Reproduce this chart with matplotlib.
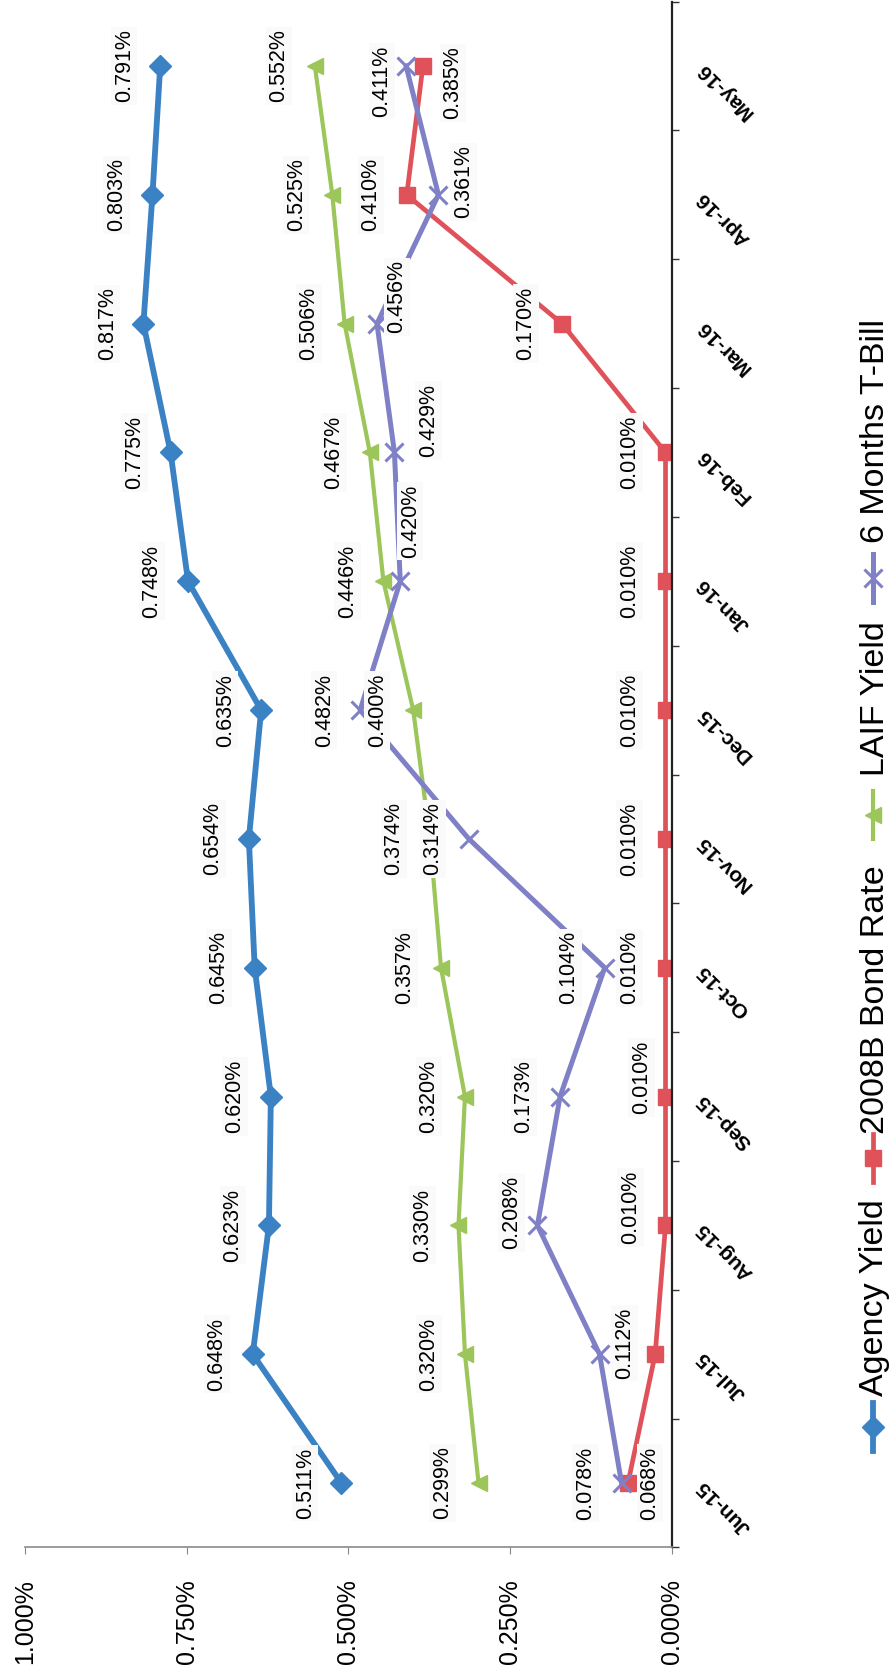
import numpy as np
import matplotlib
matplotlib.use("Agg")
import matplotlib.pyplot as plt
from matplotlib.lines import Line2D

# ---------------- data ----------------
months = ["Jun-15", "Jul-15", "Aug-15", "Sep-15", "Oct-15", "Nov-15",
          "Dec-15", "Jan-16", "Feb-16", "Mar-16", "Apr-16", "May-16"]
agency_yield = [0.511, 0.648, 0.623, 0.620, 0.645, 0.654, 0.635, 0.748, 0.775, 0.817, 0.803, 0.791]
bond_rate = [0.068, 0.026, 0.010, 0.010, 0.010, 0.010, 0.010, 0.010, 0.010, 0.170, 0.410, 0.385]
laif_yield = [0.299, 0.320, 0.330, 0.320, 0.357, 0.374, 0.400, 0.446, 0.467, 0.506, 0.525, 0.552]
tbill_6m = [0.078, 0.112, 0.208, 0.173, 0.104, 0.314, 0.482, 0.420, 0.429, 0.456, 0.361, 0.411]
value_ticks = [0.0, 0.25, 0.5, 0.75, 1.0]
series_names = ["Agency Yield", "2008B Bond Rate", "LAIF Yield", "6 Months T-Bill"]

# ---------------- styles ----------------
W, H = 890, 1673
FONT = "Liberation Sans"
colors = ["#3b82c4", "#e0525a", "#9cc55a", "#7f80c6"]
markers = ["D", "s", "<", "x"]
msizes = [11, 11, 12, 13]
lwidths = [4.2, 3.4, 3.0, 3.6]

# label offsets in pixels (dx right, dy down); default is "above" in the original
default_off = (-36, 0)
label_off = {
    (1, 0): (22, 0), (1, 2): (-35, -18), (1, 3): (-24, -19), (1, 11): (30, 17),
    (3, 1): (25, -11), (3, 2): (-26, -13), (3, 7): (10, -60), (3, 8): (34, -32),
    (3, 9): (20, -27), (3, 10): (25, -13), (3, 11): (-24, 15),
}
hidden_labels = {(1, 1)}

fig = plt.figure(figsize=(W / 100, H / 100), dpi=100)
ax_left, ax_right, ax_top, ax_bot = 25, 672, 1.6, 1547.4
ax = fig.add_axes([ax_left / W, (H - ax_bot) / H, (ax_right - ax_left) / W, (ax_bot - ax_top) / H])

ypos = np.arange(len(months))
all_series = [agency_yield, bond_rate, laif_yield, tbill_6m]
for k, vals in enumerate(all_series):
    ax.plot(vals, ypos, color=colors[k], lw=lwidths[k], marker=markers[k],
            ms=msizes[k], mfc=colors[k], mec=colors[k], mew=2.2 if markers[k] == "x" else 1,
            zorder=2 + k * 0.1, solid_joinstyle="round")

for k, vals in enumerate(all_series):
    for i, v in enumerate(vals):
        if (k, i) in hidden_labels:
            continue
        dx, dy = label_off.get((k, i), default_off)
        ax.annotate(f"{v:.3f}%", (v, i), xytext=(dx, -dy), textcoords="offset pixels",
                    rotation=90, ha="center", va="center", fontsize=15.5, family=FONT,
                    color="#000000", zorder=6,
                    bbox=dict(boxstyle="square,pad=0.12", fc="#fafafa", ec="none"))

ax.set_xlim(1.0, 0.0)
ax.set_ylim(-0.5, len(months) - 0.5)
ax.set_xticks(value_ticks)
ax.set_xticklabels([f"{t:.3f}%" for t in value_ticks], rotation=90, fontsize=18, family=FONT)
ax.tick_params(axis="x", direction="out", length=5, color="#888888", pad=18)

ax.yaxis.tick_right()
ax.set_yticks(ypos)
ax.set_yticklabels(months)
ax.set_yticks(np.arange(-0.5, len(months), 1.0), minor=True)
ax.tick_params(axis="y", which="major", length=0, pad=20)
ax.tick_params(axis="y", which="minor", length=5, direction="out", color="#333333", width=1)
for lbl in ax.get_yticklabels():
    lbl.set(rotation=135, ha="right", va="center", rotation_mode="anchor",
            fontsize=15, fontweight="bold", family=FONT)

for s in ["top", "left"]:
    ax.spines[s].set_visible(False)
ax.spines["bottom"].set_color("#8a8a8a")
ax.spines["bottom"].set_linewidth(1.2)
ax.spines["right"].set_color("#222222")
ax.spines["right"].set_linewidth(1.6)

# ---------------- legend (rotated, drawn manually) ----------------
fx = lambda x: x / W
fy = lambda y: 1 - y / H
leg_x = 873
leg_marker_y = [1427, 1158, 815, 578]
leg_text_y = [1396, 1134, 776, 543]
for k, name in enumerate(series_names):
    c = leg_marker_y[k]
    fig.add_artist(Line2D([fx(leg_x), fx(leg_x)], [fy(c + 24), fy(c - 24)],
                          transform=fig.transFigure, color=colors[k], lw=lwidths[k]))
    fig.add_artist(Line2D([fx(leg_x)], [fy(c)], transform=fig.transFigure,
                          marker=markers[k], ms=msizes[k], color=colors[k],
                          mew=2.2 if markers[k] == "x" else 1, lw=0))
    fig.text(fx(leg_x + 2), fy(leg_text_y[k]), name, rotation=90, ha="center", va="bottom",
             fontsize=24.5, family=FONT, color="#000000")

fig.savefig("out.png", dpi=100)
